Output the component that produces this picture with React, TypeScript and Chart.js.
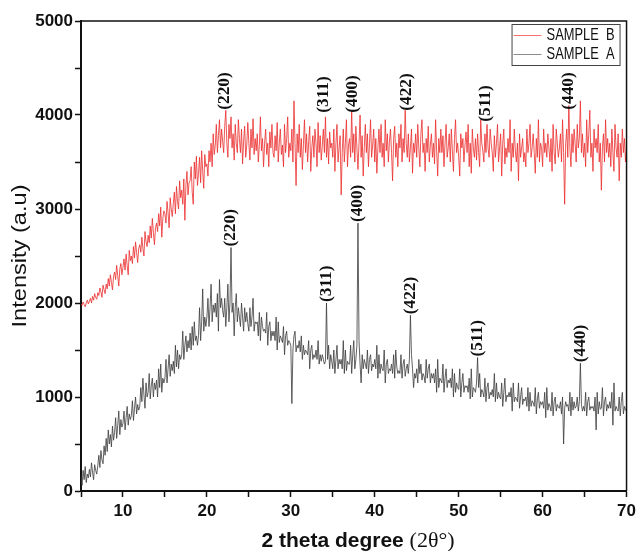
import React, { useEffect, useRef } from "react";
import { Chart, registerables } from "chart.js";

Chart.register(...registerables);

// 2-theta grid of the digitised patterns (degrees)
const X_START = 5;
const X_STEP = 0.125;

// SAMPLE B intensities (a.u.), one row per degree (8 samples per degree)
const SAMPLE_B = [
  1990, 1975, 2010, 1985, 1960, 2000, 2030, 1990,
  2020, 2050, 2000, 2070, 2030, 2100, 2060, 2040,
  2110, 2080, 2160, 2120, 2060, 2190, 2140, 2100,
  2200, 2150, 2260, 2180, 2300, 2220, 2140, 2280,
  2330, 2250, 2400, 2290, 2180, 2360, 2420, 2300,
  2380, 2470, 2350, 2520, 2400, 2300, 2560, 2450,
  2500, 2420, 2600, 2480, 2650, 2540, 2430, 2580,
  2620, 2540, 2700, 2580, 2500, 2760, 2650, 2600,
  2720, 2640, 2820, 2690, 2900, 2750, 2620, 2800,
  2850, 2760, 2950, 2820, 3020, 2700, 2900, 2980,
  2950, 2850, 3080, 2960, 2800, 3120, 3000, 2920,
  3060, 3180, 2950, 3240, 3080, 3000, 3300, 3120,
  3200, 3050, 3320, 2880, 3250, 3400, 3150, 3280,
  3300, 3450, 3180, 3050, 3500, 3320, 3560, 3250,
  3380, 3550, 3280, 3620, 3400, 3220, 3580, 3450,
  3480, 3350, 3620, 3500, 3700, 3450, 3800, 3580,
  3680, 3900, 3600, 3780, 3950, 3650, 3850, 3720,
  3600, 3880, 4050, 3700, 3550, 3900, 3750, 3980,
  3650, 3800, 3520, 3900, 3700, 3600, 3950, 3750,
  3600, 3850, 3480, 3720, 3880, 3550, 3680, 3920,
  3700, 3520, 3850, 3650, 3960, 3580, 3750, 3620,
  3800, 3500, 3680, 3980, 3620, 3750, 3450, 3700,
  3850, 3580, 3700, 3450, 3820, 3650, 3900, 3600,
  3550, 3780, 3620, 3920, 3500, 3700, 3850, 3580,
  3680, 3450, 3900, 3600, 3750, 3980, 3550, 3700,
  3620, 3850, 3500, 4150, 3700, 3250, 3800, 3600,
  3900, 3550, 3750, 3420, 3680, 3950, 3600, 3800,
  3500, 3720, 3880, 3400, 3650, 3780, 3550, 3850,
  3700, 3450, 3920, 3600, 3780, 3520, 3680, 3850,
  3600, 3980, 3550, 3750, 3480, 3820, 3650, 3700,
  3550, 3850, 3400, 3700, 3900, 3500, 3650, 3780,
  3150, 3600, 3850, 3500, 3700, 3950, 3450, 3680,
  3750, 3550, 4050, 3600, 3800, 3500, 3880, 3650,
  3420, 3700, 4000, 3550, 3780, 3350, 3650, 3900,
  3600, 3800, 3450, 3700, 3950, 3550, 3680, 3850,
  3500, 3750, 3380, 3650, 3850, 3600, 3900, 3550,
  3700, 3450, 3950, 3620, 3800, 3500, 3720, 3850,
  3600, 3300, 3750, 3880, 3550, 3700, 3450, 3800,
  3650, 3900, 3500, 3750, 3600, 4050, 3700, 3550,
  3800, 3500, 3650, 3850, 3380, 3700, 3600, 3800,
  3550, 3900, 3650, 3450, 3800, 3950, 3600, 3700,
  3400, 3750, 3600, 3880, 3500, 3680, 3800, 3550,
  3700, 3480, 3950, 3620, 3350, 3750, 3600, 3850,
  3600, 3780, 3450, 3700, 3900, 3550, 3650, 3800,
  3500, 3850, 3620, 3400, 3750, 3950, 3600, 3700,
  3550, 3350, 3800, 3650, 3750, 3500, 3680, 3820,
  3600, 3900, 3450, 3700, 3380, 3850, 3650, 3550,
  3750, 3520, 3800, 3600, 3450, 3950, 3700, 3620,
  3500, 3800, 3600, 3900, 3650, 3550, 3850, 3700,
  3600, 3400, 3780, 3550, 3700, 3900, 3500, 3650,
  3800, 3350, 3700, 3850, 3480, 3650, 3550, 3750,
  3600, 3950, 3400, 3700, 3550, 3850, 3620, 3500,
  3700, 3300, 3800, 3550, 3650, 3750, 3500, 3600,
  3450, 3850, 3600, 3700, 3900, 3550, 3650, 3800,
  3600, 3380, 3750, 3550, 3950, 3500, 3700, 3650,
  3450, 3850, 3600, 3700, 3550, 3800, 3650, 3500,
  3750, 3400, 3900, 3600, 3480, 3850, 3700, 3550,
  3650, 3800, 3500, 3950, 3600, 3050, 3700, 3850,
  3550, 4100, 3650, 3450, 3800, 3600, 3850, 3700,
  3500, 3900, 3650, 3750, 4150, 3600, 3800, 3550,
  3700, 3450, 3950, 3600, 3800, 4050, 3550, 3700,
  3400, 3850, 3650, 3750, 3600, 3900, 3500, 3700,
  3200, 3650, 3800, 3500, 3950, 3600, 3750, 3550,
  3700, 3450, 3850, 3600, 3400, 3900, 3650, 3550,
  3800, 3300, 3700, 3550, 3850, 3600, 3750, 3500,
  3650,
];

// SAMPLE A intensities (a.u.), same grid
const SAMPLE_A = [
  160, 60, 220, 120, 260, 90, 180, 140,
  230, 150, 300, 200, 120, 280, 220, 180,
  270, 380, 250, 430, 330, 290, 480, 380,
  560, 420, 650, 500, 600, 470, 690, 540,
  620, 780, 560, 700, 850, 600, 760, 680,
  720, 850, 650, 780, 900, 700, 820, 760,
  800, 960, 750, 880, 1000, 820, 920, 860,
  900, 1100, 950, 1200, 1020, 880, 1150, 1000,
  1050, 1250, 980, 1120, 1200, 1000, 1150, 1080,
  1180, 1000, 1300, 1100, 1350, 1050, 1200, 1150,
  1200, 1400, 1150, 1300, 1450, 1220, 1350, 1280,
  1380, 1250, 1550, 1320, 1500, 1300, 1450, 1400,
  1450, 1700, 1400, 1550, 1650, 1480, 1600, 1520,
  1680, 1500, 1750, 1550, 1800, 1600, 1650, 1550,
  1650, 1950, 1600, 1800, 2150, 1700, 1850, 1750,
  1850, 2050, 1750, 1950, 2200, 1800, 1980, 1900,
  2000, 1850, 2100, 1700, 2250, 1950, 2050, 1920,
  1850, 2050, 1750, 1950, 2200, 1800, 2000, 2590,
  1900, 2000, 1650, 1950, 2100, 1800, 1950, 1850,
  1750, 2000, 1850, 1700, 1950, 1800, 1900, 1780,
  1700, 1950, 1750, 1850, 2050, 1700, 1800, 1780,
  1800, 1650, 1900, 1600, 1850, 1750, 1700, 1720,
  1680, 1900, 1550, 1750, 1800, 1600, 1700, 1650,
  1700, 1600, 1850, 1500, 1800, 1580, 1650, 1620,
  1580, 1750, 1450, 1650, 1700, 1550, 1600, 1580,
  1550, 930, 1500, 1650, 1700, 1480, 1550, 1520,
  1600, 1480, 1650, 1400, 1550, 1450, 1500, 1480,
  1450, 1600, 1300, 1500, 1550, 1400, 1450, 1420,
  1500, 1400, 1600, 1350, 1450, 1380, 1450, 1400,
  1350, 1380, 2000, 1400, 1550, 1300, 1450, 1380,
  1300, 1500, 1250, 1400, 1550, 1300, 1400, 1350,
  1400, 1300, 1600, 1250, 1500, 1280, 1380, 1350,
  1350, 1550, 1250, 1450, 1600, 1300, 1400, 1550,
  2850, 1600, 1350, 1150, 1450, 1300, 1400, 1350,
  1300, 1500, 1250, 1400, 1450, 1280, 1350, 1320,
  1400, 1300, 1550, 1200, 1450, 1250, 1350, 1300,
  1280, 1500, 1150, 1350, 1400, 1250, 1300, 1280,
  1350, 1250, 1450, 1200, 1500, 1320, 1250, 1280,
  1250, 1450, 1200, 1350, 1400, 1220, 1300, 1350,
  1250, 1400, 1870, 1450, 1300, 1100, 1250, 1200,
  1300, 1150, 1400, 1250, 1350, 1180, 1250, 1220,
  1150, 1400, 1200, 1300, 1350, 1150, 1250, 1200,
  1250, 1150, 1300, 1050, 1400, 1100, 1200, 1180,
  1150, 1350, 1050, 1200, 1300, 1100, 1180, 1150,
  1200, 1100, 1300, 1000, 1250, 1050, 1150, 1100,
  1080, 1300, 1000, 1150, 1250, 1050, 1120, 1100,
  1120, 1050, 1200, 980, 1300, 1000, 1100, 1080,
  1050, 1150, 1420, 1100, 1250, 1000, 1080, 1050,
  1000, 1200, 950, 1100, 1150, 980, 1050, 1020,
  1080, 1000, 1250, 950, 1150, 980, 1050, 1000,
  980, 1150, 900, 1050, 1200, 950, 1020, 1000,
  1050, 1000, 1100, 850, 1150, 950, 1000, 980,
  950, 1150, 880, 1000, 1100, 920, 980, 960,
  1000, 900, 1100, 850, 1050, 900, 960, 940,
  900, 1100, 820, 980, 1050, 880, 950, 920,
  950, 880, 1050, 780, 1100, 860, 930, 900,
  850, 1050, 800, 950, 1000, 850, 920, 890,
  880, 950, 820, 1000, 500, 880, 950, 900,
  920, 850, 1050, 800, 1000, 860, 950, 880,
  900, 1000, 850, 950, 1360, 920, 850, 900,
  850, 1050, 800, 950, 1000, 860, 900, 880,
  900, 850, 1000, 650, 1050, 820, 950, 870,
  880, 1100, 800, 950, 1000, 850, 920, 880,
  950, 880, 1050, 700, 1150, 850, 900, 870,
  850, 1000, 800, 950, 1050, 820, 900, 860,
  850,
];

const SERIES_NAMES = ["SAMPLE  B", "SAMPLE  A"];
const PEAK_LABELS = ["(220)", "(311)", "(400)", "(422)", "(511)", "(440)"];
const B_LABEL_X = [22.1, 33.9, 37.4, 43.8, 53.2, 63.1];
const B_LABEL_Y = [4056, 4024, 4024, 4046, 3928, 4056];
const A_LABEL_X = [22.875, 34.25, 38.0, 44.25, 52.25, 64.5];
const A_LABEL_Y = [2590, 2000, 2850, 1870, 1420, 1360];

const X_MIN = 5;
const X_MAX = 70;
const Y_MIN = 0;
const Y_MAX = 5000;

const RED = "rgba(235,45,45,0.8)";
const GREY = "rgba(60,60,60,0.8)";

const toPoints = (vals: number[]) =>
  vals.map((v, i) => ({ x: X_START + i * X_STEP, y: v }));

const decorPlugin = {
  id: "decor",
  afterDraw(chart: any) {
    const { ctx, chartArea: ca, scales } = chart;
    const xs = scales.x;
    const ys = scales.y;
    ctx.save();

    // top and right frame
    ctx.strokeStyle = "#111";
    ctx.lineWidth = 1.5;
    ctx.beginPath();
    ctx.moveTo(ca.left, ca.top);
    ctx.lineTo(ca.right, ca.top);
    ctx.lineTo(ca.right, ca.bottom);
    ctx.stroke();

    // peak labels
    ctx.fillStyle = "#111";
    ctx.font = "bold 16px 'Liberation Serif', serif";
    ctx.textAlign = "left";
    ctx.textBaseline = "middle";
    const drawLabel = (txt: string, xv: number, yv: number, gap: number) => {
      const px = xs.getPixelForValue(xv);
      const py = ys.getPixelForValue(yv);
      ctx.save();
      ctx.translate(px, py - gap);
      ctx.rotate(-Math.PI / 2);
      ctx.scale(1.08, 1);
      ctx.fillText(txt, 0, 0);
      ctx.restore();
    };
    PEAK_LABELS.forEach((t, i) => drawLabel(t, B_LABEL_X[i], B_LABEL_Y[i], 0));
    PEAK_LABELS.forEach((t, i) => drawLabel(t, A_LABEL_X[i], A_LABEL_Y[i], 1));

    // legend
    const bx = ca.right - 115;
    const by = ca.top + 3;
    const bw = 108;
    const bh = 41;
    ctx.fillStyle = "#fff";
    ctx.fillRect(bx, by, bw, bh);
    ctx.strokeStyle = "#444";
    ctx.lineWidth = 1;
    ctx.strokeRect(bx + 0.5, by + 0.5, bw, bh);
    const legColors = ["rgb(255,110,110)", "rgb(140,140,140)"];
    SERIES_NAMES.forEach((name, i) => {
      const ly = by + 11 + i * 19;
      ctx.strokeStyle = legColors[i];
      ctx.lineWidth = 1;
      ctx.beginPath();
      ctx.moveTo(bx + 2, ly + 0.5);
      ctx.lineTo(bx + 30, ly + 0.5);
      ctx.stroke();
      ctx.fillStyle = "#111";
      ctx.font = "14px 'Liberation Sans', Arial, sans-serif";
      ctx.textAlign = "left";
      ctx.textBaseline = "middle";
      ctx.save();
      ctx.translate(bx + 35, ly + 1);
      ctx.scale(0.92, 1.15);
      ctx.fillText(name, 0, 0);
      ctx.restore();
    });

    // y axis title
    ctx.save();
    ctx.translate(20, 256);
    ctx.rotate(-Math.PI / 2);
    ctx.scale(1.18, 1);
    ctx.fillStyle = "#111";
    ctx.font = "20px 'Liberation Sans', Arial, sans-serif";
    ctx.textAlign = "center";
    ctx.textBaseline = "middle";
    ctx.fillText("Intensity (a.u)", 0, 0);
    ctx.restore();

    // x axis title (mixed fonts)
    const part1 = "2 theta degree ";
    const part2 = "(2θ°)";
    const f1 = "bold 21px 'Liberation Sans', Arial, sans-serif";
    const f2 = "22px 'Liberation Serif', serif";
    ctx.font = f1;
    const w1 = ctx.measureText(part1).width;
    ctx.font = f2;
    const w2 = ctx.measureText(part2).width;
    const cx = 358;
    const startX = cx - (w1 + w2) / 2;
    ctx.fillStyle = "#111";
    ctx.textAlign = "left";
    ctx.textBaseline = "alphabetic";
    ctx.font = f1;
    ctx.fillText(part1, startX, 547);
    ctx.font = f2;
    ctx.fillText(part2, startX + w1, 547);

    ctx.restore();
  },
};

export default function App() {
  const ref = useRef<HTMLCanvasElement>(null);

  useEffect(() => {
    const canvas = ref.current;
    if (!canvas) return;
    const chart = new Chart(canvas, {
      type: "line",
      data: {
        datasets: [
          {
            label: SERIES_NAMES[0],
            data: toPoints(SAMPLE_B),
            borderColor: RED,
            borderWidth: 1,
            pointRadius: 0,
            tension: 0,
            fill: false,
          },
          {
            label: SERIES_NAMES[1],
            data: toPoints(SAMPLE_A),
            borderColor: GREY,
            borderWidth: 1,
            pointRadius: 0,
            tension: 0,
            fill: false,
          },
        ],
      },
      options: {
        responsive: false,
        animation: false,
        devicePixelRatio: 1,
        layout: { padding: { top: 21, right: 10, left: 0, bottom: 0 } },
        plugins: {
          legend: { display: false },
          tooltip: { enabled: false },
          title: { display: false },
        },
        scales: {
          x: {
            type: "linear",
            min: X_MIN,
            max: X_MAX,
            ticks: {
              stepSize: 5,
              autoSkip: false,
              maxRotation: 0,
              padding: 4,
              color: "#111",
              font: { family: "'Liberation Sans', Arial, sans-serif", size: 17, weight: "bold" },
              callback: (v: any) => (Number(v) % 10 === 0 ? String(v) : ""),
            },
            grid: {
              drawOnChartArea: false,
              drawTicks: true,
              tickLength: 6,
              tickColor: "#111",
              tickWidth: 1.5,
            },
            border: { display: true, color: "#111", width: 2 },
            afterFit: (scale: any) => {
              scale.height = 60;
            },
          },
          y: {
            type: "linear",
            min: Y_MIN,
            max: Y_MAX,
            ticks: {
              stepSize: 500,
              autoSkip: false,
              padding: 2,
              color: "#111",
              font: { family: "'Liberation Sans', Arial, sans-serif", size: 17, weight: "bold" },
              callback: (v: any) => (Number(v) % 1000 === 0 ? String(v) : ""),
            },
            grid: {
              drawOnChartArea: false,
              drawTicks: true,
              tickLength: 6,
              tickColor: "#111",
              tickWidth: 1.5,
            },
            border: { display: true, color: "#111", width: 2 },
            afterFit: (scale: any) => {
              scale.width = 81;
            },
          },
        },
      } as any,
      plugins: [decorPlugin],
    });
    return () => chart.destroy();
  }, []);

  return (
    <div style={{ position: "fixed", left: 0, top: 0, width: 640, height: 551, background: "#fff" }}>
      <canvas ref={ref} width={640} height={551} style={{ display: "block" }} />
    </div>
  );
}
